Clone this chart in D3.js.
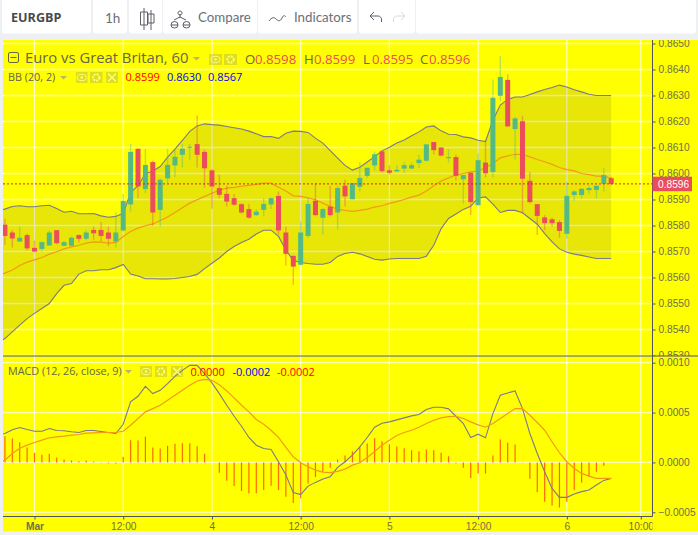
<!DOCTYPE html>
<html><head><meta charset="utf-8">
<script src="https://cdnjs.cloudflare.com/ajax/libs/d3/7.8.5/d3.min.js"></script>
<style>
html,body{margin:0;padding:0;background:#eef0f3;overflow:hidden}
svg{display:block}
text{font-family:"Open Sans",sans-serif}
</style></head><body><svg id="c" width="698" height="535"></svg>
<script>
// hour offset of the first candle relative to the "Mar" tick
const firstHour = -4;
const open = [.85803,.85773,.85738,.85763,.85714,.8571,.85723,.85782,.85722,.85722,.85763,.85749,.85783,.85783,.85773,.85738,.85781,.85881,.86095,.8594,.86044,.8586,.85981,.86031,.86072,.861,.86113,.86083,.86012,.85944,.85922,.85905,.85882,.85863,.8584,.8586,.85881,.85914,.85773,.85683,.85649,.8576,.85895,.8583,.85873,.8585,.85953,.85901,.85949,.85991,.86031,.86085,.86012,.86008,.86019,.86019,.8604,.86049,.86121,.861,.8606,.86063,.85978,.86003,.85878,.86042,.86006,.86299,.8636,.86171,.86201,.85972,.85882,.85831,.85824,.85813,.85768,.85917,.85917,.85936,.85937,.8596,.85982];
const high = [.85826,.85783,.85796,.8577,.85742,.85738,.85781,.85782,.8574,.85758,.85765,.85783,.85796,.85813,.85796,.85851,.85922,.86113,.86095,.86094,.86049,.85982,.86095,.86091,.86113,.86113,.86223,.86091,.86017,.85995,.85953,.85921,.85886,.85883,.85863,.85905,.85908,.85931,.85796,.85686,.85815,.85905,.85963,.85867,.85953,.85953,.85976,.85963,.86044,.86022,.86085,.86088,.86032,.86031,.86044,.86042,.86072,.86112,.86121,.861,.86094,.86073,.85994,.86003,.86077,.86128,.86362,.86451,.86382,.86218,.86222,.86006,.85882,.8584,.8583,.85821,.85968,.85936,.85944,.85953,.85953,.86021,.85987];
const low = [.85726,.85715,.85738,.85704,.85696,.857,.85723,.85728,.8572,.8572,.85735,.85742,.85745,.85738,.8572,.85715,.85777,.85854,.85905,.85924,.85799,.85796,.85963,.85986,.86023,.86053,.86023,.85944,.85864,.85905,.85873,.85876,.85845,.85826,.85837,.85835,.85863,.85764,.85646,.85572,.85646,.85751,.85835,.85764,.85835,.85786,.85873,.85901,.85931,.85982,.86012,.86004,.85996,.86008,.86004,.86017,.86021,.86045,.86073,.86064,.86042,.85974,.85885,.8584,.85878,.85985,.85985,.86279,.86181,.86054,.85846,.85885,.85763,.85782,.85795,.85753,.8575,.85895,.85904,.85921,.85904,.8593,.85954];
const close = [.8576,.8575,.85753,.85712,.857,.85736,.85773,.85732,.85736,.85753,.85749,.85773,.8577,.8576,.85749,.85773,.85894,.86083,.8595,.86033,.8585,.85976,.86033,.86064,.86095,.86103,.86072,.8602,.8595,.85918,.85892,.8588,.8585,.8583,.85853,.85883,.85905,.85781,.85691,.85642,.85773,.85883,.8584,.85863,.8584,.85944,.85912,.85963,.85983,.86022,.86074,.86009,.86003,.86014,.86032,.86032,.86053,.86112,.8609,.86069,.86063,.85991,.85994,.8589,.86051,.86001,.86291,.86371,.86181,.86212,.8598,.8589,.85837,.85809,.85809,.85779,.85914,.85931,.85941,.85944,.85953,.85994,.8596];

// Bollinger bands start one hour before the first candle (clipped by the pane)
const bbUpper = [.8586,.85863,.85873,.85876,.85872,.85872,.85876,.85878,.85865,.85851,.85855,.85845,.85845,.85846,.85837,.85832,.85835,.85847,.85927,.85953,.85999,.8601,.86027,.86063,.86094,.86127,.86162,.86183,.86191,.86188,.86186,.86181,.86176,.86171,.86163,.86153,.86142,.86142,.86135,.86155,.86163,.86162,.86158,.86136,.86117,.86088,.86059,.86031,.86013,.86024,.86044,.86065,.86087,.86101,.86117,.86129,.86145,.8616,.86179,.86183,.86164,.86151,.8615,.86141,.86137,.86128,.86123,.86205,.86263,.86285,.86294,.86294,.86304,.86314,.86323,.86331,.8634,.86333,.86322,.86314,.86305,.863,.863,.863];
const bbBasis = [.85605,.85617,.85629,.85646,.85659,.85668,.85677,.8569,.85699,.8571,.85718,.85724,.85732,.85737,.85736,.85732,.85735,.85758,.85777,.8579,.85799,.85806,.85819,.85833,.8585,.85868,.85886,.85899,.85912,.85924,.85935,.85944,.85947,.85951,.85954,.85958,.85963,.85963,.85947,.85933,.85914,.85912,.85906,.85899,.85886,.85873,.85863,.85858,.85854,.85858,.85863,.85871,.85876,.85885,.85892,.859,.85909,.85917,.85933,.85953,.85971,.85983,.85994,.86,.86006,.86009,.86023,.86038,.8606,.86068,.86074,.86073,.86064,.86054,.86045,.86035,.86023,.86015,.8601,.86,.85996,.8599,.8599,.85981];
const bbLower = [.8535,.85365,.85391,.85417,.85442,.85462,.85481,.855,.85538,.8557,.85577,.85613,.85626,.85626,.8563,.8563,.85638,.8565,.85613,.85606,.85595,.85595,.85594,.85594,.85596,.856,.85604,.85612,.85634,.85655,.85675,.857,.85719,.85735,.85747,.85767,.85782,.85782,.85758,.85706,.85665,.85658,.85654,.85651,.85651,.85658,.85681,.85692,.85697,.85691,.85681,.8567,.85667,.85671,.85673,.85673,.85673,.85673,.85682,.85724,.85788,.85827,.85844,.85862,.85874,.85906,.8591,.85882,.8585,.85858,.85858,.85849,.85827,.85805,.85769,.85737,.8571,.85697,.8569,.85685,.85679,.85673,.85673,.85673];

// MACD values in units of 0.00001; the two lines also start one hour earlier
const macdLine = [28,29,32.7,35,33,31.3,31.3,34,32,31.7,30.7,30,32,32,31,30,29,38.3,60.7,66.3,76.3,69,72.3,79,86.3,92.3,97.3,97.3,89,79.7,69,57.3,46.3,36.3,25,17.3,14,13,.7,-12.7,-30.3,-32.3,-23.7,-20,-16.7,-14.3,-5,.7,7.3,15.7,25,35.3,39.3,40.7,42.7,44.7,46.7,48,53,55.3,55.3,53.7,46.3,39,25,28.3,24.7,49,67.3,69.7,71.7,54,29,9,-9.3,-26,-35,-35,-31.7,-29.3,-27.7,-22.7,-18,-16];
const signalLine = [-1,2.3,9,14.3,17.3,20,22.3,24.7,25.7,26.3,27.3,28,29.3,29.7,30,30,30,31.3,37.3,44,50.7,54,57.3,62.3,67.3,72.3,77.3,81.7,83.3,82.3,78,71.7,64.7,57.3,50.7,43,38.3,32.3,25,15,5.7,-.3,-4.3,-7.7,-9.7,-10.3,-9,-6.7,-2.7,-.3,5,11,17.3,22.3,27,30,32.3,35.3,39,42.3,44.7,46,46.3,44,40.7,37.7,35.3,39,44,49,54,54,47.3,40,32.3,20.7,9.7,.7,-6,-11,-13.7,-16,-16,-16];
const macdHist = [26.3,24,20.3,15,9.7,7.7,8.7,5,3,2,1.3,2,1,.3,-.7,-1,5.7,22.3,22,25.7,15,14,16.7,18.7,19.3,19.3,16.3,8.7,0,-10.3,-18.3,-23.7,-28.7,-31,-31,-27.7,-23.3,-27.7,-34.3,-40.7,-36,-21,-14.7,-9.3,-5.3,3,7,11.3,15.7,19,24.3,21.3,18.3,16,14.3,12.3,11.3,13,12.3,9.7,6.3,-.7,-5.3,-15.7,-11,-11,7,23,19.7,18,.3,-16.3,-30,-39.3,-43.3,-45.3,-39.3,-27.7,-20.3,-14.3,-9.3,-3.3];

const priceTicks = [.865,.864,.863,.862,.861,.86,.859,.858,.857,.856,.855,.854,.853];
const macdTicks = [100,50,0,-50];
const timeTicks = [0,12,24,36,48,60,72,82];
const timeLabels = ["Mar","12:00","4","12:00","5","12:00","6","10:00"];
const lastPrice = 0.8596;

const legendOHLC = [["O","0.8598"],["H","0.8599"],["L","0.8595"],["C","0.8596"]];
const legendBB = ["0.8599","0.8630","0.8567"];
const legendMACD = ["0.0000","-0.0002","-0.0002"];

const UP="#53b987", DOWN="#eb4d5c", TXT="#70704a", AX="#50535e", LEG="#66664a";
const svg=d3.select("#c");
const L=3,R=652.5,T=40,SEP=356,B=516.5;

const x=d3.scaleLinear().domain([0,78]).range([34.5,611.2]);
const y=d3.scaleLinear().domain([.865,.853]).range([43.5,355.5]);
const m=d3.scaleLinear().domain([100,-50]).range([362.7,512.3]);
const xC=i=>x(firstHour+i), xB=i=>x(firstHour-1+i);

// page chrome
svg.append("rect").attr("width",698).attr("height",535).attr("fill","#eef0f3");
[[2,89],[93,34],[129,33],[163,94],[258,99],[359,56],[416,280]].forEach(d=>{
  svg.append("rect").attr("x",d[0]).attr("y",-6).attr("width",d[1]).attr("height",39.5).attr("rx",3).attr("fill","#fff");
});
svg.append("rect").attr("x",L).attr("y",T).attr("width",695).attr("height",491.5).attr("fill","#ffff00");

const defs=svg.append("defs");
[["pp",L,T,R-L,SEP-T],["pm",L,SEP,R-L,B-SEP],["ap",R,T,50,SEP-T],["am",R,SEP,50,B-SEP],["at",L,B,R-L,20]].forEach(d=>{
  defs.append("clipPath").attr("id",d[0]).append("rect").attr("x",d[1]).attr("y",d[2]).attr("width",d[3]).attr("height",d[4]);
});

// grid
const grid=svg.append("g").attr("stroke","#fff").attr("stroke-opacity",.72).attr("stroke-width",1.3);
timeTicks.forEach(t=>grid.append("line").attr("x1",x(t)).attr("x2",x(t)).attr("y1",T).attr("y2",B));
priceTicks.forEach(p=>grid.append("line").attr("x1",L).attr("x2",R).attr("y1",y(p)).attr("y2",y(p)));
macdTicks.forEach(p=>grid.append("line").attr("x1",L).attr("x2",R).attr("y1",m(p)).attr("y2",m(p)));

// price pane
const pp=svg.append("g").attr("clip-path","url(#pp)");
pp.append("path").datum(d3.range(bbUpper.length))
  .attr("d",d3.area().x(xB).y0(i=>y(bbLower[i])).y1(i=>y(bbUpper[i])))
  .attr("fill","rgba(60,50,60,.12)");
const ln=(arr,sx,sy)=>d3.line().x((d,i)=>sx(i)).y(d=>sy(d))(arr);
const BLUE="#7a7a88", ORANGE="#f39a16";
pp.append("path").attr("d",ln(bbUpper,xB,y)).attr("fill","none").attr("stroke",BLUE).attr("stroke-width",1.1);
pp.append("path").attr("d",ln(bbLower,xB,y)).attr("fill","none").attr("stroke",BLUE).attr("stroke-width",1.1);
pp.append("path").attr("d",ln(bbBasis,xB,y)).attr("fill","none").attr("stroke",ORANGE).attr("stroke-width",1.2);

const cs=pp.append("g").selectAll("g").data(open.map((o,i)=>i)).join("g");
const col=i=>close[i]>=open[i]?UP:DOWN;
cs.append("line").attr("x1",xC).attr("x2",xC).attr("y1",i=>y(high[i])).attr("y2",i=>y(low[i]))
  .attr("stroke",col).attr("stroke-opacity",.42).attr("stroke-width",1.4);
cs.append("rect").attr("x",i=>xC(i)-2.5).attr("width",5)
  .attr("y",i=>y(Math.max(open[i],close[i])))
  .attr("height",i=>Math.max(1,Math.abs(y(open[i])-y(close[i]))))
  .attr("fill",col);
pp.append("line").attr("x1",L).attr("x2",R).attr("y1",y(lastPrice)).attr("y2",y(lastPrice))
  .attr("stroke","#e02030").attr("stroke-dasharray","2,2").attr("stroke-width",1);

// MACD pane
const pm=svg.append("g").attr("clip-path","url(#pm)");
pm.append("g").selectAll("line").data(macdHist.map((v,i)=>i)).join("line")
  .attr("x1",xC).attr("x2",xC).attr("y1",m(0)).attr("y2",i=>m(macdHist[i]))
  .attr("stroke","#ff5a00").attr("stroke-opacity",.9).attr("stroke-width",1.2);
pm.append("path").attr("d",ln(macdLine,xB,m)).attr("fill","none").attr("stroke",BLUE).attr("stroke-width",1.1);
pm.append("path").attr("d",ln(signalLine,xB,m)).attr("fill","none").attr("stroke",ORANGE).attr("stroke-width",1.2);

// axes
function style(g){
  g.selectAll(".domain").remove();
  g.selectAll("line").attr("stroke",AX);
  g.selectAll("text").attr("fill",TXT).style("font-family","'Liberation Sans',sans-serif").style("font-size","10.2px");
}
svg.append("g").attr("clip-path","url(#ap)").attr("transform","translate(0,0)")
 .append("g").attr("transform",`translate(${R},0)`)
 .call(d3.axisRight(y).tickValues(priceTicks).tickFormat(d3.format(".4f")).tickSize(3).tickPadding(3)).call(style);
svg.append("g").attr("clip-path","url(#am)")
 .append("g").attr("transform",`translate(${R},0)`)
 .call(d3.axisRight(m).tickValues(macdTicks).tickFormat(v=>d3.format(".4f")(v/100000)).tickSize(3).tickPadding(3)).call(style);
const ax=svg.append("g").attr("clip-path","url(#at)").append("g").attr("transform",`translate(0,${B})`)
 .call(d3.axisBottom(x).tickValues(timeTicks).tickFormat((t,i)=>timeLabels[i]).tickSize(3).tickPadding(3)).call(style);
ax.selectAll("text").filter((d,i)=>i===0).style("font-weight","700");

svg.append("g").attr("stroke",AX).attr("stroke-width",1).call(g=>{
  g.append("line").attr("x1",R).attr("x2",R).attr("y1",T).attr("y2",B);
  g.append("line").attr("x1",L).attr("x2",698).attr("y1",SEP).attr("y2",SEP);
  g.append("line").attr("x1",L).attr("x2",R).attr("y1",B).attr("y2",B);
});

// last-price label
svg.append("rect").attr("x",R).attr("y",y(lastPrice)-7.2).attr("width",39.5).attr("height",14.5).attr("fill",DOWN);
svg.append("text").attr("x",658).attr("y",y(lastPrice)+3.8).attr("fill","#fff")
  .style("font-family","'Liberation Sans',sans-serif").style("font-size","10.2px").text(d3.format(".4f")(lastPrice));

// legends
function t(xp,yp,s,size,fill,extra){
  const e=svg.append("text").attr("x",xp).attr("y",yp).attr("fill",fill).style("font-size",size+"px").text(s);
  if(extra)extra(e);return e;
}
function iconBox(xp,yp,w,h,kind){
  const g=svg.append("g").attr("transform",`translate(${xp},${yp})`);
  g.append("rect").attr("width",w).attr("height",h).attr("fill","#8a8a5c").attr("fill-opacity",.28);
  const cx=w/2,cy=h/2,c="#ffff80";
  if(kind==="eye"){g.append("ellipse").attr("cx",cx).attr("cy",cy).attr("rx",4.5).attr("ry",3.2).attr("fill","none").attr("stroke",c);
    g.append("circle").attr("cx",cx).attr("cy",cy).attr("r",1.3).attr("fill",c);}
  if(kind==="gear"){g.append("circle").attr("cx",cx).attr("cy",cy).attr("r",3.2).attr("fill","none").attr("stroke",c).attr("stroke-width",2).attr("stroke-dasharray","2,1");}
  if(kind==="x"){g.append("path").attr("d",`M${cx-4} ${cy-4}L${cx+4} ${cy+4}M${cx+4} ${cy-4}L${cx-4} ${cy+4}`).attr("stroke",c).attr("stroke-width",1.3);}
}
const arrow=(xp,yp)=>svg.append("path").attr("d",`M${xp} ${yp}l7 0l-3.5 3.5z`).attr("fill","#b5b56a");

svg.append("rect").attr("x",8.5).attr("y",52.5).attr("width",10).attr("height",10).attr("rx",1.5).attr("fill","none").attr("stroke",LEG);
svg.append("line").attr("x1",10.5).attr("x2",16.5).attr("y1",57.5).attr("y2",57.5).attr("stroke",LEG);
t(25,63,"Euro vs Great Britan, 60",14.8,LEG);
arrow(193,57);
iconBox(209,54,13,11,"eye");iconBox(224,54,13,11,"gear");
const ohlcX=[[245,255],[304,314],[363,372],[420,429]];
legendOHLC.forEach((d,i)=>{t(ohlcX[i][0],63.5,d[0],13.2,LEG);t(ohlcX[i][1],63.5,d[1],13.2,DOWN);});

t(8,81,"BB (20, 2)",10.8,LEG);
arrow(60,76);
iconBox(76,72,11.5,11,"eye");iconBox(90,72,12.5,11,"gear");iconBox(106,72,12,11,"x");
const bbX=[125.5,167,208];const bbCol=["#ff0000","#0000ff","#0000ff"];
legendBB.forEach((s,i)=>t(bbX[i],81,s,11,bbCol[i]));

t(8,375,"MACD (12, 26, close, 9)",10.8,LEG);
arrow(125,370);
iconBox(140,366,12,11,"eye");iconBox(155,366,12,11,"gear");iconBox(171,366,12,11,"x");
const mX=[190.5,232.5,277];const mCol=["#ff0000","#0000ff","#ff0000"];
legendMACD.forEach((s,i)=>t(mX[i],376,s,11,mCol[i]));

// toolbar
t(11,22,"EURGBP",12.6,"#4a4a4a",e=>e.style("font-weight","700"));
t(105,23,"1h",13.5,"#6a6f78",e=>e.style("font-family","Lato"));
t(198,22,"Compare",13.3,"#6a6f78",e=>e.style("font-family","Lato"));
t(294,22,"Indicators",13.3,"#6a6f78",e=>e.style("font-family","Lato"));
const ic=svg.append("g").attr("fill","none").attr("stroke","#5a5f68").attr("stroke-width",1);
ic.append("path").attr("d","M144 8v22M144 12h-3.5v13h7v-13zM151 10v20M151 14h-3v9h6v-9z");
ic.append("path").attr("d","M180 11a2 2 0 1 0 .1 0M180 14v4M180 17l-6 3M180 17l6 3M171 25h7a3.5 3.5 0 0 0-7 0zM183 25h7a3.5 3.5 0 0 0-7 0zM171 25a3.5 3 0 0 0 7 0M183 25a3.5 3 0 0 0 7 0");
ic.append("path").attr("d","M269 21c3-4 5-4 7-2s4 3 6-1s3-2 4-1");
ic.append("path").attr("d","M374 12l-4 4 4 4M370 16h8a3.5 3.5 0 0 1 3.5 4v2");
ic.append("path").attr("stroke","#d5d8dc").attr("d","M401 12l4 4-4 4M405 16h-8a3.5 3.5 0 0 0-3.5 4v2");
</script></body></html>
